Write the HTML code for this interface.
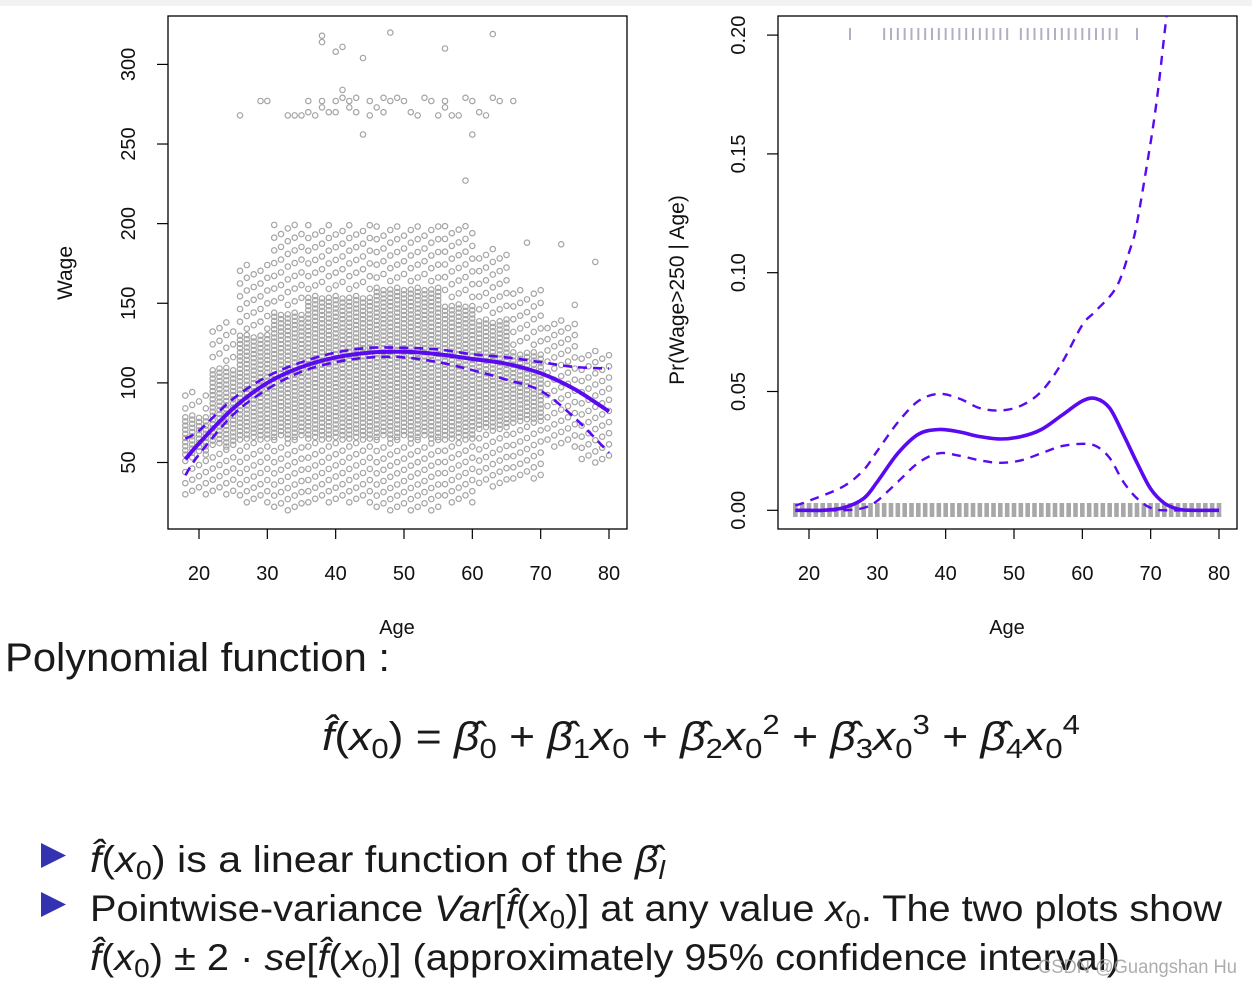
<!DOCTYPE html>
<html><head><meta charset="utf-8"><style>
html,body{margin:0;padding:0;background:#fff;}
svg{display:block;font-family:"Liberation Sans",sans-serif;}
</style></head><body>
<svg id="root" width="1252" height="986" viewBox="0 0 1252 986" xmlns="http://www.w3.org/2000/svg">
<rect x="0" y="0" width="1252" height="6" fill="#f2f2f2"/>
<g id="left"></g>
<g id="right"></g>
<g fill="#1a1a1a" font-size="40">
<text x="5" y="671" textLength="385" lengthAdjust="spacingAndGlyphs">Polynomial function :</text>
<text x="322" y="750" textLength="758" lengthAdjust="spacingAndGlyphs" font-size="40"><tspan font-style="italic">f̂</tspan>(<tspan font-style="italic">x</tspan><tspan font-size="28" dy="8">0</tspan><tspan dy="-8">) = </tspan><tspan font-style="italic">β̂</tspan><tspan font-size="28" dy="8">0</tspan><tspan dy="-8"> + </tspan><tspan font-style="italic">β̂</tspan><tspan font-size="28" dy="8">1</tspan><tspan dy="-8" font-style="italic">x</tspan><tspan font-size="28" dy="8">0</tspan><tspan dy="-8"> + </tspan><tspan font-style="italic">β̂</tspan><tspan font-size="28" dy="8">2</tspan><tspan dy="-8" font-style="italic">x</tspan><tspan font-size="28" dy="8">0</tspan><tspan font-size="28" dy="-24">2</tspan><tspan dy="16"> + </tspan><tspan font-style="italic">β̂</tspan><tspan font-size="28" dy="8">3</tspan><tspan dy="-8" font-style="italic">x</tspan><tspan font-size="28" dy="8">0</tspan><tspan font-size="28" dy="-24">3</tspan><tspan dy="16"> + </tspan><tspan font-style="italic">β̂</tspan><tspan font-size="28" dy="8">4</tspan><tspan dy="-8" font-style="italic">x</tspan><tspan font-size="28" dy="8">0</tspan><tspan font-size="28" dy="-24">4</tspan></text>
<polygon points="41,843 66,855.5 41,868" fill="#3333b2"/>
<polygon points="41,892 66,904.5 41,917" fill="#3333b2"/>
<text x="90" y="872" font-size="37" textLength="575" lengthAdjust="spacingAndGlyphs"><tspan font-style="italic">f̂</tspan>(<tspan font-style="italic">x</tspan><tspan font-size="26" dy="7">0</tspan><tspan dy="-7">) is a linear function of the </tspan><tspan font-style="italic">β̂</tspan><tspan font-size="26" dy="7" font-style="italic">l</tspan></text>
<text x="90" y="921" font-size="37" textLength="1132" lengthAdjust="spacingAndGlyphs">Pointwise-variance <tspan font-style="italic">Var</tspan>[<tspan font-style="italic">f̂</tspan>(<tspan font-style="italic">x</tspan><tspan font-size="26" dy="7">0</tspan><tspan dy="-7">)] at any value </tspan><tspan font-style="italic">x</tspan><tspan font-size="26" dy="7">0</tspan><tspan dy="-7">.  The two plots show</tspan></text>
<text x="90" y="970" font-size="37" textLength="1030" lengthAdjust="spacingAndGlyphs"><tspan font-style="italic">f̂</tspan>(<tspan font-style="italic">x</tspan><tspan font-size="26" dy="7">0</tspan><tspan dy="-7">) ± 2 · </tspan><tspan font-style="italic">se</tspan>[<tspan font-style="italic">f̂</tspan>(<tspan font-style="italic">x</tspan><tspan font-size="26" dy="7">0</tspan><tspan dy="-7">)] (approximately 95% confidence interval)</tspan></text>
<text x="1038" y="973" font-size="19" fill="#999" fill-opacity="0.8" textLength="199" lengthAdjust="spacingAndGlyphs">CSDN @Guangshan Hu</text>
</g>
</svg>
<script>
// ---- left chart data ----
const groupStart=[18,22,26,31,36,46,56,61,66,71,76];
const groupEnd  =[21,25,30,35,45,55,60,65,70,75,80];
const denseLo =[55,60,65,65,65,65,65,70,75,0,0];
const denseHi =[80,110,130,145,155,160,150,140,120,0,0];
const sparseLo=[30,30,25,20,25,20,25,35,40,60,50];
const sparseHi=[95,140,175,200,200,200,200,185,160,140,120];
const highAges =[26,29,30,33,34,35,36,36,37,38,38,39,40,40,41,41,42,42,43,43,44,45,45,46,47,47,48,49,50,51,52,53,54,55,56,56,57,58,59,60,61,62,63,64,66,38,38,40,41,48,56,63,44,59,60,78,73,68,75];
const highWages=[268,277,277,268,268,268,277,270,268,277,273,270,277,270,279,284,277,273,279,270,256,277,268,273,279,270,277,279,277,270,268,279,277,268,277,273,268,268,279,277,270,268,279,277,277,318,314,308,311,320,310,319,304,227,256,176,187,188,149];
const fitAges=[18,20,25,30,35,40,45,50,55,60,65,70,75,80];
const fitWage=[52,62,84,100,110,116,119,119.5,118,115,112,106,96,82];
const upWage =[65,70,90,104,113,119,122,122,121,118,116,113,110,109];
const loWage =[42,55,80,96,107,113,116,116,113,108,102,95,78,56];
const xTicks=[20,30,40,50,60,70,80];
const yTicksL=[50,100,150,200,250,300];
// ---- right chart data ----
const pAges=[18,20,22,25,28,30,33,36,39,42,45,48,51,54,57,60,62,64,66,68,70,72,74,76,80];
const pFit =[0,0,0,0.001,0.005,0.012,0.024,0.032,0.034,0.033,0.031,0.030,0.031,0.034,0.040,0.046,0.047,0.043,0.032,0.020,0.009,0.003,0.0005,0,0];
const pUpAges=[18,20,25,28,30,33,36,39,42,45,48,51,54,57,60,62,65,67,68,70,71,72,73];
const pUp  =[0.002,0.004,0.010,0.017,0.025,0.037,0.046,0.049,0.047,0.043,0.042,0.044,0.050,0.062,0.078,0.084,0.094,0.11,0.121,0.155,0.175,0.2,0.225];
const pLoAges=[18,25,28,30,33,36,39,42,45,48,51,54,57,60,62,64,66,68,70,72,80];
const pLo  =[0,0,0.001,0.004,0.012,0.020,0.024,0.023,0.021,0.020,0.021,0.024,0.027,0.028,0.027,0.022,0.012,0.005,0.001,0,0];
const topRugAges=[26,31,32,33,34,35,36,37,38,39,40,41,42,43,44,45,46,47,48,49,51,52,53,54,55,56,57,58,59,60,61,62,63,64,65,68];
const yTicksR=[0,0.05,0.10,0.15,0.20];
const yTickLabR=["0.00","0.05","0.10","0.15","0.20"];

const NS="http://www.w3.org/2000/svg";
function mk(parent,tag,attrs){const e=document.createElementNS(NS,tag);for(const k in attrs)e.setAttribute(k,attrs[k]);parent.appendChild(e);return e;}
const xL=a=>199+(a-20)*(410/60);
const xR=a=>809+(a-20)*(410/60);
const yL=w=>462.5-(w-50)*(398.1/250);
const yR=p=>510.3-p*2376;

function drawAxes(g,x0,xs,ticksY,ys,labsY,xlabel,ylabel,ylabX){
  const box=mk(g,'rect',{x:x0,y:16,width:459,height:513,fill:'none',stroke:'#000','stroke-width':1.3});
  
  
  xTicks.forEach(t=>{
    const l=mk(g,'line',{x1:xs(t),x2:xs(t),y1:529,y2:539,stroke:'#000','stroke-width':1.2});
    
    
    const tx=mk(g,'text',{x:xs(t),y:580,'text-anchor':'middle','font-size':20,fill:'#111'});
    tx.textContent=t;
    
    
  });
  ticksY.forEach((t,i)=>{
    const y=ys(t);
    const l=mk(g,'line',{x1:x0-11,x2:x0,y1:y,y2:y,stroke:'#000','stroke-width':1.2});
    
    
    const tx=mk(g,'text',{x:0,y:0,'text-anchor':'middle','font-size':20,fill:'#111',transform:`translate(${x0-33},${y}) rotate(-90)`});
    tx.textContent=labsY[i];
    
    
  });
  const xl=mk(g,'text',{x:x0+229,y:634,'text-anchor':'middle','font-size':20,fill:'#111'});
  xl.textContent=xlabel;
  
  
  const yl=mk(g,'text',{x:0,y:0,'text-anchor':'middle','font-size':21,fill:'#111',transform:`translate(${ylabX},${ylabel.pos}) rotate(-90)`});
  yl.textContent=ylabel.t;
  
  
}
function smoothPath(xsArr,ysArr,xs,ys){
  const P=xsArr.map((a,i)=>[xs(a),ys(ysArr[i])]);
  let d='M'+P[0][0]+','+P[0][1];
  for(let i=0;i<P.length-1;i++){
    const p0=P[Math.max(0,i-1)],p1=P[i],p2=P[i+1],p3=P[Math.min(P.length-1,i+2)];
    const c1=[p1[0]+(p2[0]-p0[0])/6,p1[1]+(p2[1]-p0[1])/6];
    const c2=[p2[0]-(p3[0]-p1[0])/6,p2[1]-(p3[1]-p1[1])/6];
    d+=` C${c1[0].toFixed(1)},${c1[1].toFixed(1)} ${c2[0].toFixed(1)},${c2[1].toFixed(1)} ${p2[0].toFixed(1)},${p2[1].toFixed(1)}`;
  }
  return d;
}

// LEFT
const L=document.getElementById('left');
drawAxes(L,168,xL,yTicksL,yL,yTicksL,'Age',{t:'Wage',pos:273},72);
const pts=mk(L,'g',{fill:'none',stroke:'#a4a4a4','stroke-width':1.2});


function dot(a,w){
  const c=mk(pts,'circle',{cx:xL(a).toFixed(1),cy:yL(w).toFixed(1),r:2.7});
  
  
}
groupStart.forEach((s,gi)=>{
  for(let a=s;a<=groupEnd[gi];a++){
    const off=(a%3)*1.1;
    if(denseHi[gi]>0){for(let w=denseLo[gi]+off;w<=denseHi[gi];w+=2.6)dot(a,w);}
    for(let w=sparseLo[gi]+off*2;w<denseLo[gi]||(denseHi[gi]===0&&w<=sparseHi[gi]);w+=7)dot(a,w);
    for(let w=Math.max(denseHi[gi],sparseLo[gi])+4+off*2;w<=sparseHi[gi]&&denseHi[gi]>0;w+=8)dot(a,w);
  }
});
highAges.forEach((a,i)=>dot(a,highWages[i]));
const fitL=mk(L,'path',{d:smoothPath(fitAges,fitWage,xL,yL),fill:'none',stroke:'#5a0af0','stroke-width':4});


[[upWage,'upper-ci-line'],[loWage,'lower-ci-line']].forEach(([arr,n])=>{
  const p=mk(L,'path',{d:smoothPath(fitAges,arr,xL,yL),fill:'none',stroke:'#5a0af0','stroke-width':2.6,'stroke-dasharray':'9,6'});
  
  
});

// RIGHT
const R=document.getElementById('right');
const clip=mk(R,'clipPath',{id:'rc'});mk(clip,'rect',{x:778,y:16,width:459,height:513});
drawAxes(R,778,xR,yTicksR,yR,yTickLabR,'Age',{t:'Pr(Wage>250 | Age)',pos:290},684);
const rug=mk(R,'g',{stroke:'#a8a8a8','stroke-width':4.6});


for(let a=18;a<=80;a++){
  const l=mk(rug,'line',{x1:xR(a),x2:xR(a),y1:503,y2:517});
  
  
}
const rugT=mk(R,'g',{stroke:'#b0b0c4','stroke-width':2});


topRugAges.forEach(a=>{
  const l=mk(rugT,'line',{x1:xR(a),x2:xR(a),y1:28,y2:40});
  
  
});
const rg=mk(R,'g',{'clip-path':'url(#rc)'});
const fr=mk(rg,'path',{d:smoothPath(pAges,pFit,xR,yR),fill:'none',stroke:'#5a0af0','stroke-width':3.6});


const ur=mk(rg,'path',{d:smoothPath(pUpAges,pUp,xR,yR),fill:'none',stroke:'#5a0af0','stroke-width':2.4,'stroke-dasharray':'9,7'});


const lr=mk(rg,'path',{d:smoothPath(pLoAges,pLo,xR,yR),fill:'none',stroke:'#5a0af0','stroke-width':2.4,'stroke-dasharray':'9,7'});


</script>
</body></html>
